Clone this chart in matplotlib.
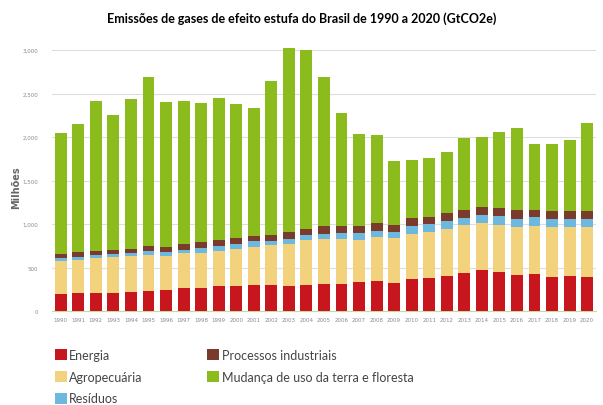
import numpy as np
import matplotlib
matplotlib.use("Agg")
import matplotlib.pyplot as plt
from matplotlib.patches import Patch

# Dados (milhões de tCO2e)
anos = [str(a) for a in range(1990, 2021)]
energia = [197, 205, 205, 211, 216, 231, 250, 265, 272, 288, 291, 299, 299, 295, 307, 318,
           312, 338, 350, 330, 365, 381, 408, 442, 473, 446, 416, 423, 396, 404, 389]
agropecuaria = [380, 387, 403, 408, 415, 415, 385, 400, 401, 408, 424, 443, 459, 478, 508, 509,
                515, 481, 500, 516, 524, 531, 538, 546, 542, 550, 557, 558, 569, 569, 576]
residuos = [35, 31, 38, 35, 34, 43, 46, 43, 54, 54, 54, 66, 54, 62, 62, 62,
            69, 77, 73, 69, 92, 88, 85, 85, 89, 96, 92, 100, 93, 89, 97]
processos = [50, 54, 46, 50, 54, 61, 61, 69, 65, 65, 70, 61, 69, 73, 73, 88,
             85, 85, 85, 77, 88, 88, 92, 89, 92, 89, 93, 84, 92, 92, 88]
uso_terra = [1388, 1477, 1723, 1546, 1716, 1935, 1666, 1638, 1596, 1631, 1542, 1462, 1765, 2111, 2050, 1708,
             1300, 1057, 1015, 739, 673, 674, 708, 823, 800, 877, 942, 754, 769, 815, 1012]

series = [
    ("Energia", energia, "#c8161f"),
    ("Agropecuária", agropecuaria, "#f2d27d"),
    ("Resíduos", residuos, "#6db8de"),
    ("Processos industriais", processos, "#7a3a2c"),
    ("Mudança de uso da terra e floresta", uso_terra, "#8cbb1e"),
]

fig = plt.figure(figsize=(6.03, 4.06), dpi=100)
ax = fig.add_axes([0.0862, 0.2308, 0.902, 0.6544])

x = np.arange(len(anos))
base = np.zeros(len(anos))
for nome, vals, cor in series:
    ax.bar(x, vals, bottom=base, width=0.68, color=cor, zorder=3, label=nome)
    base += np.array(vals)

ax.set_xlim(-0.5, len(anos) - 0.5)
ax.set_ylim(0, 3050)
ax.set_yticks([0, 500, 1000, 1500, 2000, 2500, 3000])
ax.set_yticklabels(["0", "500", "1,000", "1,500", "2,000", "2,500", "3,000"])
ax.set_xticks(x)
ax.set_xticklabels(anos)
ax.tick_params(axis="both", length=0, labelsize=4, colors="#8a8a8a")
ax.tick_params(axis="y", pad=10)
ax.tick_params(axis="x", pad=4)
ax.grid(axis="y", color="#dddddd", linewidth=0.8, zorder=0)

for s in ["top", "right", "left"]:
    ax.spines[s].set_visible(False)
ax.spines["bottom"].set_color("#c5dc9a")
ax.spines["bottom"].set_linewidth(0.8)

fig.text(16 / 603, 1 - 188 / 406, "Milhões", rotation=90, ha="center", va="center",
         fontsize=7, color="#666666", fontweight="bold")

fig.text(0.5, 0.955, "Emissões de gases de efeito estufa do Brasil de 1990 a 2020 (GtCO2e)",
         ha="center", va="center", fontsize=9, fontweight="bold", family="Lato")

handles = [Patch(facecolor=c, edgecolor="none", label=n) for n, _, c in series]
fig.legend(handles=handles, loc="upper left", bbox_to_anchor=(55 / 603, 1 - 350 / 406), ncol=2,
           frameon=False, handlelength=0.95, handleheight=0.95,
           handletextpad=0.2, columnspacing=5.15, labelspacing=0.78,
           labelcolor="#444444", borderaxespad=0, borderpad=0,
           prop={"family": "Lato", "size": 9})

fig.savefig("out.png", dpi=100)
